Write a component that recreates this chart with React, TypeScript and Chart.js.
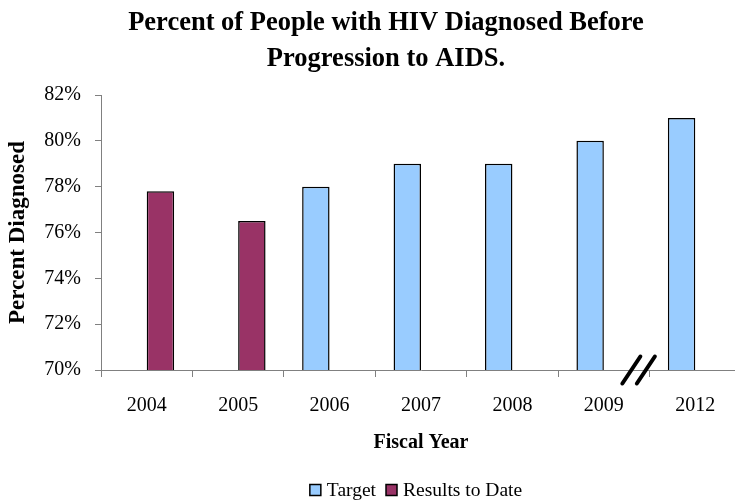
import React, { useEffect, useRef } from "react";
import { Chart, registerables } from "chart.js";

Chart.register(...registerables);

// ---- data ----
const titleLines = ["Percent of People with HIV Diagnosed Before", "Progression to AIDS."];
const fiscalYears = ["2004", "2005", "2006", "2007", "2008", "2009", "2012"];
const targetPct: (number | null)[] = [null, null, 78, 79, 79, 80, 81];
const resultsPct: (number | null)[] = [77.8, 76.5, null, null, null, null, null];
const yMin = 70;
const yMax = 82;
const yStep = 2;
const xAxisTitle = "Fiscal Year";
const yAxisTitle = "Percent Diagnosed";
const seriesNames = ["Target", "Results to Date"];
const seriesColors = ["#99CCFF", "#993366"];
// the year gap on the category axis sits after this index (2009 -> 2012)
const breakAfterIndex = 5;

const SERIF = "'Liberation Serif', 'Times New Roman', serif";
const AXIS_GREY = "#808080";

// Two-line bold heading above the plot
const headingPlugin = {
  id: "heading",
  afterDraw(chart: any) {
    const { ctx } = chart;
    ctx.save();
    ctx.fillStyle = "#000";
    ctx.font = `bold 26.5px ${SERIF}`;
    ctx.textAlign = "center";
    ctx.textBaseline = "middle";
    const cx = 386;
    titleLines.forEach((line, i) => ctx.fillText(line, cx, 23 + i * 36));
    ctx.restore();
  },
};

// Legend row under the axis title, built from the datasets
const legendRowPlugin = {
  id: "legendRow",
  afterDraw(chart: any) {
    const { ctx } = chart;
    const box = 11;
    const gapBoxText = 6;
    const gapItems = 10;
    ctx.save();
    ctx.font = `19.5px ${SERIF}`;
    ctx.textBaseline = "middle";
    ctx.textAlign = "left";
    const items = chart.data.datasets.map((ds: any) => ({
      label: ds.label as string,
      color: ds.backgroundColor as string,
      w: box + gapBoxText + ctx.measureText(ds.label).width,
    }));
    const total = items.reduce((s: number, it: any) => s + it.w, 0) + gapItems * (items.length - 1);
    const cy = 490;
    let x = 416 - total / 2;
    items.forEach((it: any) => {
      ctx.fillStyle = it.color;
      ctx.fillRect(x, cy - box / 2, box, box);
      ctx.strokeStyle = "#000";
      ctx.lineWidth = 1.5;
      ctx.strokeRect(x, cy - box / 2, box, box);
      ctx.fillStyle = "#000";
      ctx.fillText(it.label, x + box + gapBoxText, cy + 1);
      x += it.w + gapItems;
    });
    ctx.restore();
  },
};

// Double-slash break mark on the category axis
const axisBreakPlugin = {
  id: "axisBreak",
  afterDraw(chart: any) {
    const xs = chart.scales.x;
    const ctx = chart.ctx;
    const a = xs.getPixelForValue(breakAfterIndex);
    const b = xs.getPixelForValue(breakAfterIndex + 1);
    const cat = b - a;
    const cx = (a + b) / 2 - cat * 0.12;
    const cy = chart.chartArea.bottom;
    const hw = 9;
    const hh = 13.5;
    const sep = 14.5;
    ctx.save();
    ctx.strokeStyle = "#000";
    ctx.lineWidth = 4;
    ctx.lineCap = "round";
    [-sep / 2, sep / 2].forEach((off) => {
      ctx.beginPath();
      ctx.moveTo(cx + off - hw, cy + hh);
      ctx.lineTo(cx + off + hw, cy - hh);
      ctx.stroke();
    });
    ctx.restore();
  },
};

export default function App() {
  const canvasRef = useRef<HTMLCanvasElement | null>(null);

  useEffect(() => {
    if (!canvasRef.current) return;
    const chart = new Chart(canvasRef.current, {
      type: "bar",
      data: {
        labels: fiscalYears,
        datasets: [
          {
            label: seriesNames[0],
            data: targetPct,
            backgroundColor: seriesColors[0],
            borderColor: "#000",
            borderWidth: 1.5,
          },
          {
            label: seriesNames[1],
            data: resultsPct,
            backgroundColor: seriesColors[1],
            borderColor: "#000",
            borderWidth: 1.5,
          },
        ],
      },
      options: {
        responsive: false,
        animation: false,
        devicePixelRatio: 1,
        layout: { padding: { top: 95, left: 0, right: 1, bottom: 46 } },
        datasets: { bar: { categoryPercentage: 0.6, barPercentage: 1.0 } },
        plugins: {
          legend: { display: false },
          title: { display: false },
          tooltip: { enabled: false },
        },
        scales: {
          x: {
            grid: {
              offset: true,
              drawOnChartArea: false,
              tickLength: 7,
              color: AXIS_GREY,
            },
            border: { color: AXIS_GREY, width: 1 },
            ticks: {
              color: "#000",
              padding: 17,
              font: { family: SERIF, size: 20 },
              maxRotation: 0,
            },
            title: {
              display: true,
              text: xAxisTitle,
              color: "#000",
              font: { family: SERIF, size: 20, weight: "bold" },
              padding: { top: 0, bottom: 0 },
            },
            afterFit(scale: any) {
              scale.height = 85;
            },
          },
          y: {
            min: yMin,
            max: yMax,
            grid: {
              drawOnChartArea: false,
              tickLength: 6,
              color: AXIS_GREY,
            },
            border: { color: AXIS_GREY, width: 1 },
            ticks: {
              stepSize: yStep,
              color: "#000",
              padding: 14,
              font: { family: SERIF, size: 20 },
              callback: (v: any) => `${v}%`,
            },
            title: {
              display: true,
              text: yAxisTitle,
              color: "#000",
              font: { family: SERIF, size: 23, weight: "bold" },
              padding: { top: 4, bottom: 0 },
            },
            afterFit(scale: any) {
              scale.width = 101;
            },
          },
        },
      },
      plugins: [headingPlugin, legendRowPlugin, axisBreakPlugin],
    });
    return () => chart.destroy();
  }, []);

  return (
    <div
      style={{
        position: "fixed",
        left: 0,
        top: 0,
        width: 735,
        height: 501,
        overflow: "hidden",
        background: "#fff",
      }}
    >
      <canvas
        ref={canvasRef}
        width={742}
        height={501}
        style={{ display: "block", width: 742, height: 501 }}
      />
    </div>
  );
}
